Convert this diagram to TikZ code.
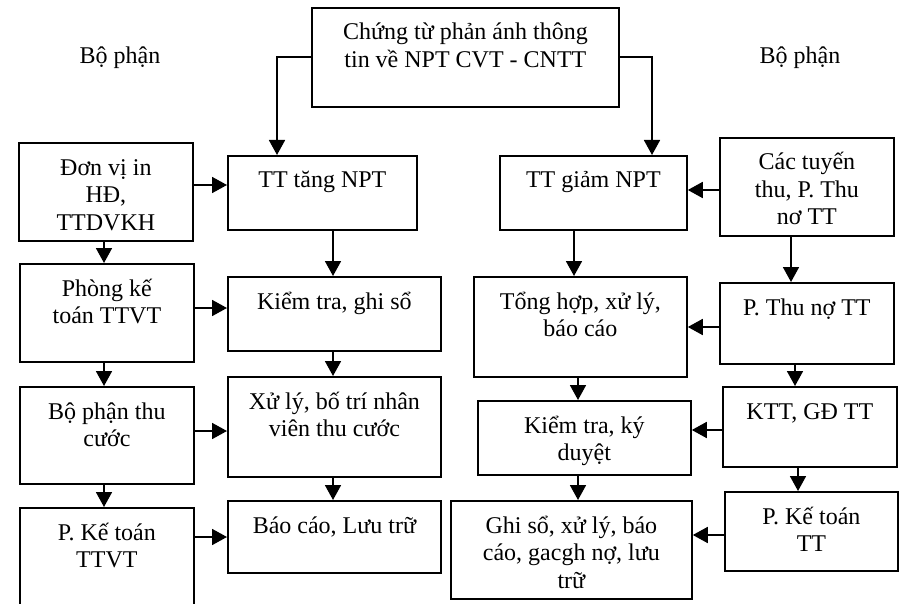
\documentclass[tikz,border=0pt]{standalone}
\usepackage{fontspec}
\setmainfont{Liberation Serif}
\usetikzlibrary{arrows.meta}
\begin{document}
\begin{tikzpicture}[x=1pt,y=-1pt,
  box/.style={draw, line width=1.8pt, inner sep=0pt, anchor=north west},
  % lbl=n : text of n+1 lines, first baseline 33pt below the box top
  lbl/.style={anchor=base, yshift=-33pt-27.5pt*#1, inner sep=0pt, align=center,
    font=\fontsize{24}{27.5}\selectfont},
  lbl/.default=0,
  head/.style={inner sep=0pt, anchor=base, font=\fontsize{24}{27.5}\selectfont},
  arr/.style={line width=1.8pt, -{Triangle[length=15pt,width=16pt]}}]
\useasboundingbox (0,0) rectangle (899,604);
\clip (0,0) rectangle (899,604);

% column headings
\node[head] (hl) at (120,64) {Bộ phận};
\node[head] (hr) at (800,64) {Bộ phận};

% source document
\node[box, minimum width=307pt, minimum height=99pt,
  label={[lbl=1]north:{Chứng từ phản ánh thông\\tin về NPT CVT - CNTT}}] (top) at (311,7) {};

% left column: departments
\node[box, minimum width=174pt, minimum height=98pt,
  label={[lbl=2]north:{Đơn vị in\\HĐ,\\TTDVKH}}] (L1) at (18,142) {};
\node[box, minimum width=174pt, minimum height=98pt,
  label={[lbl=1]north:{Phòng kế\\toán TTVT}}] (L2) at (19,263) {};
\node[box, minimum width=174pt, minimum height=97pt,
  label={[lbl=1]north:{Bộ phận thu\\cước}}] (L3) at (19,386) {};
\node[box, minimum width=174pt, minimum height=130pt,
  label={[lbl=1]north:{P. Kế toán\\TTVT}}] (L4) at (19,507) {};

% increase flow
\node[box, minimum width=189pt, minimum height=74pt,
  label={[lbl]north:{TT tăng NPT}}] (M1) at (227,155) {};
\node[box, minimum width=213pt, minimum height=74pt,
  label={[lbl]north:{Kiểm tra, ghi sổ}}] (M2) at (227,276) {};
\node[box, minimum width=213pt, minimum height=100pt,
  label={[lbl=1]north:{Xử lý, bố trí nhân\\viên thu cước}}] (M3) at (227,376) {};
\node[box, minimum width=213pt, minimum height=72pt,
  label={[lbl]north:{Báo cáo, Lưu trữ}}] (M4) at (227,500) {};

% decrease flow
\node[box, minimum width=187pt, minimum height=74pt,
  label={[lbl]north:{TT giảm NPT}}] (N1) at (499,155) {};
\node[box, minimum width=213pt, minimum height=100pt,
  label={[lbl=1]north:{Tổng hợp, xử lý,\\báo cáo}}] (N2) at (473,276) {};
\node[box, minimum width=213pt, minimum height=74pt,
  label={[lbl=1]north:{Kiểm tra, ký\\duyệt}}] (N3) at (477,400) {};
\node[box, minimum width=241pt, minimum height=98pt,
  label={[lbl=2]north:{Ghi sổ, xử lý, báo\\cáo, gacgh nợ, lưu\\trữ}}] (N4) at (450,500) {};

% right column: departments
\node[box, minimum width=174pt, minimum height=98pt,
  label={[lbl=2]north:{Các tuyến\\thu, P. Thu\\nơ TT}}] (R1) at (719,137) {};
\node[box, minimum width=174pt, minimum height=81pt,
  label={[lbl]north:{P. Thu nợ TT}}] (R2) at (719,282) {};
\node[box, minimum width=174pt, minimum height=80pt,
  label={[lbl]north:{KTT, GĐ TT}}] (R3) at (722,386) {};
\node[box, minimum width=173pt, minimum height=79pt,
  label={[lbl=1]north:{P. Kế toán\\TT}}] (R4) at (724,491) {};

% from the source document
\draw[arr] (top.west |- 0,57) -| (M1.north -| 277,0);
\draw[arr] (top.east |- 0,57) -| (N1.north -| 652,0);

% left column downwards
\draw[arr] (L1.south -| 104,0) -- (L2.north -| 104,0);
\draw[arr] (L2.south -| 104,0) -- (L3.north -| 104,0);
\draw[arr] (L3.south -| 104,0) -- (L4.north -| 104,0);

% left column into increase flow
\draw[arr] (L1.east |- 0,185) -- (M1.west |- 0,185);
\draw[arr] (L2.east |- 0,308) -- (M2.west |- 0,308);
\draw[arr] (L3.east |- 0,431) -- (M3.west |- 0,431);
\draw[arr] (L4.east |- 0,537) -- (M4.west |- 0,537);

% increase flow downwards
\draw[arr] (M1.south -| 333,0) -- (M2.north -| 333,0);
\draw[arr] (M2.south -| 333,0) -- (M3.north -| 333,0);
\draw[arr] (M3.south -| 333,0) -- (M4.north -| 333,0);

% decrease flow downwards
\draw[arr] (N1.south -| 574,0) -- (N2.north -| 574,0);
\draw[arr] (N2.south -| 578,0) -- (N3.north -| 578,0);
\draw[arr] (N3.south -| 578,0) -- (N4.north -| 578,0);

% right column downwards
\draw[arr] (R1.south -| 791,0) -- (R2.north -| 791,0);
\draw[arr] (R2.south -| 795,0) -- (R3.north -| 795,0);
\draw[arr] (R3.south -| 798,0) -- (R4.north -| 798,0);

% right column into decrease flow
\draw[arr] (R1.west |- 0,190) -- (N1.east |- 0,190);
\draw[arr] (R2.west |- 0,327) -- (N2.east |- 0,327);
\draw[arr] (R3.west |- 0,430) -- (N3.east |- 0,430);
\draw[arr] (R4.west |- 0,535) -- (N4.east |- 0,535);
\end{tikzpicture}
\end{document}
